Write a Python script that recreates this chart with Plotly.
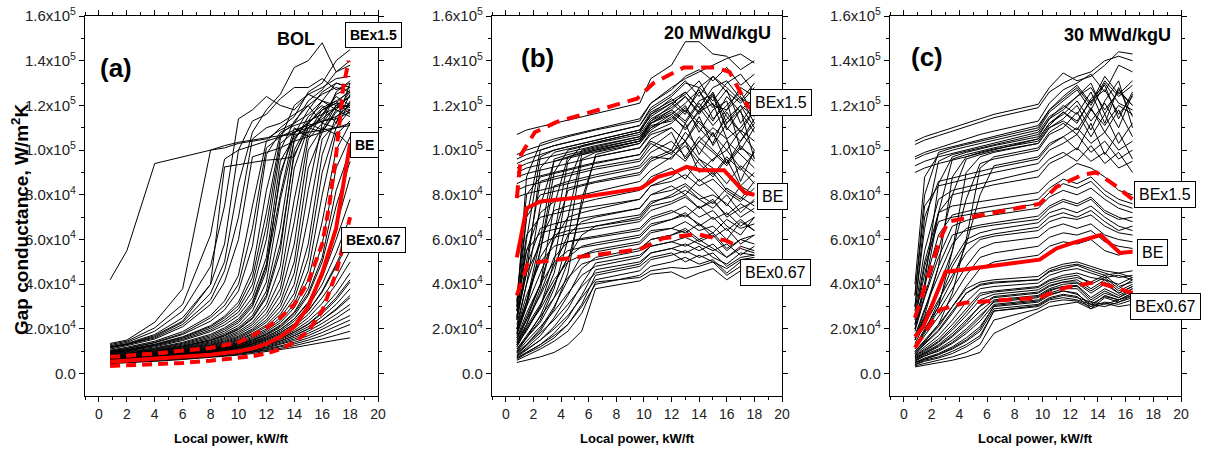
import plotly.graph_objects as go

# gap conductance values in units of 1e3 W/m2K, local power in kW/ft

# ---- panel (a): BOL ----
xa = [0.8, 2, 4, 6, 8, 9, 10, 11, 12, 13, 14, 15, 16, 17, 18]
lines_a = [
    [4.5, 5, 5.5, 6.3, 7.2, 7.7, 8.3, 9, 9.8, 10.7, 11.7, 12.8, 14, 15, 16],
    [4.8, 5.2, 5.8, 6.6, 7.6, 8.2, 8.9, 9.7, 10.7, 11.9, 13.3, 15, 17, 19.5, 22],
    [5, 5.4, 6.1, 7, 8, 8.7, 9.4, 10.3, 11.5, 13, 14.8, 17, 19.8, 23, 26],
    [5.2, 5.6, 6.4, 7.3, 8.4, 9.1, 9.9, 11, 12.3, 14, 16.2, 19, 22.5, 26.5, 31],
    [5.4, 5.9, 6.7, 7.6, 8.8, 9.6, 10.5, 11.7, 13.2, 15.2, 17.8, 21, 25.5, 31, 38],
    [5.6, 6.1, 6.9, 7.9, 9.2, 10, 11, 12.3, 14, 16.3, 19.3, 23.5, 29, 36, 45],
    [5.8, 6.3, 7.2, 8.2, 9.6, 10.5, 11.6, 13, 15, 17.6, 21.2, 26.5, 34, 43, 55],
    [6, 6.5, 7.4, 8.5, 10, 11, 12.2, 13.8, 16, 19, 23.5, 30, 40, 54, 70],
    [6.2, 6.7, 7.7, 8.9, 10.5, 11.6, 12.9, 14.7, 17.2, 20.7, 26, 35, 50, 75, 95],
    [6.4, 7, 8, 9.3, 11, 12.2, 13.7, 15.7, 18.6, 22.8, 29.5, 42, 68, 100, 112],
    [6.6, 7.2, 8.3, 9.7, 11.5, 12.8, 14.5, 16.8, 20, 25, 33.5, 52, 90, 110, 118],
    [6.8, 7.4, 8.6, 10.1, 12, 13.5, 15.3, 18, 21.8, 28, 40, 70, 105, 112, 125],
    [7, 7.7, 9, 10.6, 12.7, 14.3, 16.3, 19.4, 24, 32, 50, 92, 108, 118, 115],
    [7.3, 8, 9.4, 11.1, 13.4, 15.2, 17.5, 21, 27, 38, 68, 105, 112, 110, 122],
    [7.6, 8.4, 9.8, 11.7, 14.2, 16.2, 18.9, 23, 31, 48, 92, 110, 115, 125, 128],
    [8, 8.8, 10.3, 12.4, 15.2, 17.5, 20.6, 26, 37, 65, 105, 113, 122, 118, 126],
    [8.4, 9.2, 10.9, 13.2, 16.4, 19, 22.8, 30, 46, 90, 107, 118, 126, 130, 128],
    [5.9, 6.4, 7.3, 8.4, 9.8, 10.8, 11.9, 13.4, 15.5, 18.3, 22.3, 28, 37, 49, 62],
    [6.1, 6.6, 7.5, 8.7, 10.2, 11.3, 12.5, 14.2, 16.5, 19.8, 24.5, 32, 45, 66, 88],
    [6.3, 6.9, 7.9, 9.1, 10.8, 11.9, 13.3, 15.2, 17.9, 21.7, 27.5, 38, 58, 92, 106],
    [5.5, 6, 6.8, 7.8, 9, 9.8, 10.8, 12, 13.6, 15.7, 18.5, 22, 27, 33, 41],
    [5.3, 5.8, 6.5, 7.5, 8.6, 9.3, 10.2, 11.3, 12.8, 14.6, 17, 20, 24, 28.5, 34],
    [6.5, 7.1, 8.1, 9.5, 11.2, 12.5, 14, 16.2, 19.3, 23.8, 31, 46, 80, 108, 102],
    [7.1, 7.8, 9.1, 10.8, 13, 14.7, 16.8, 20, 25.5, 35, 58, 100, 110, 107, 113],
    [4.6, 5.1, 5.7, 6.5, 7.4, 8, 8.6, 9.4, 10.3, 11.3, 12.5, 13.9, 15.5, 17.2, 19],
    [4.9, 5.3, 6, 6.8, 7.8, 8.4, 9.2, 10, 11.1, 12.4, 14, 16, 18.4, 21.3, 24],
    [5.1, 5.5, 6.2, 7.1, 8.2, 8.9, 9.7, 10.6, 11.9, 13.5, 15.5, 18, 21, 24.8, 29],
    [5.3, 5.7, 6.5, 7.4, 8.6, 9.3, 10.2, 11.3, 12.7, 14.6, 17, 20, 24, 29, 35],
    [5.5, 6, 6.8, 7.7, 9, 9.8, 10.7, 12, 13.6, 15.8, 18.6, 22.3, 27.5, 34, 42],
    [5.7, 6.2, 7, 8, 9.4, 10.2, 11.3, 12.6, 14.5, 17, 20.3, 25, 31.5, 40, 50],
    [5.9, 6.4, 7.3, 8.3, 9.8, 10.7, 11.8, 13.3, 15.4, 18.2, 22.2, 28, 36.5, 48, 60],
    [6.1, 6.6, 7.5, 8.7, 10.3, 11.3, 12.5, 14.2, 16.5, 19.7, 24.5, 31.5, 43, 60, 78],
    [6.3, 6.8, 7.8, 9, 10.7, 11.8, 13.1, 15, 17.6, 21.3, 27, 36, 52, 82, 100],
    [6.7, 7.3, 8.4, 9.9, 11.8, 13.2, 14.9, 17.5, 21, 26.5, 36, 58, 98, 115, 120],
    [6.9, 7.6, 8.8, 10.4, 12.4, 13.9, 15.8, 18.8, 23, 30, 45, 82, 112, 120, 118],
    [7.4, 8.1, 9.6, 11.4, 13.8, 15.7, 18.2, 22, 29, 42, 78, 108, 118, 122, 126],
    [7.8, 8.6, 10, 12, 14.7, 16.8, 19.7, 24.5, 34, 55, 100, 112, 109, 120, 124],
    [8.2, 9, 10.6, 12.8, 15.8, 18.2, 21.6, 28, 41, 78, 104, 115, 120, 112, 130],
    [8.8, 9.7, 11.5, 14, 17.6, 20.5, 24.5, 32, 49, 88, 110, 106, 116, 124, 120],
    [9.3, 10.3, 12.4, 15.3, 19.5, 23, 27.5, 37, 60, 100, 113, 120, 112, 126, 131],
    [9, 10, 12, 14.8, 18.8, 21.8, 26, 34, 52, 95, 106, 110, 114, 119, 124],
    [9.5, 10.5, 12.7, 15.8, 20.3, 24, 29, 40, 66, 103, 108, 112, 118, 121, 127],
    [9.8, 10.8, 13.2, 16.5, 21.5, 25.7, 32, 46, 82, 107, 112, 122, 127, 135, 140],
    [10, 11.2, 13.8, 17.5, 23.5, 28.5, 37, 57, 98, 108, 111, 113, 116, 119, 120],
    [10.5, 11.8, 14.5, 18.8, 26, 32.5, 44, 75, 104, 110, 115, 126, 130, 140, 145],
    [11, 12.5, 15.5, 21, 31, 41, 60, 97, 99, 101, 104, 106, 108, 110, 112],
    [11.5, 13, 16.5, 23, 36, 50, 85, 108, 118, 125, 137, 140, 148, 135, 138],
    [12, 13.5, 17.5, 25, 40, 58, 100, 113, 116, 123, 128, 128, 132, 127, 130],
    [12.5, 14, 19, 28, 48, 75, 114, 118, 124, 120, 118, 125, 122, 130, 128],
    [13.5, 15, 23, 38, 100, 101, 103, 104, 105, 109, 112, 116, 122, 120, 124],
    [13, 14.5, 20.5, 31, 62, 96, 100, 102, 104, 106, 108, 110, 113, 114, 117],
    [42, 55, 94, 97, 100, 102, 103.5, 104.5, 105.5, 106.5, 107, 108, 109, 110, 111],
    [12, 13.2, 17, 23.5, 40, 92.5, 93.5, 94.5, 95.5, 96, 97, 112, 118, 121, 119],
    [11.8, 13, 16, 22, 33, 46, 70, 105, 110, 112, 116, 120, 125, 128, 126],
    [10.2, 11.4, 14, 18, 25, 30.5, 40, 65, 101, 106, 109, 111, 113, 115, 118],
    [9.6, 10.6, 13, 16.2, 21, 25, 30.5, 43, 72, 105, 120, 125, 128, 132, 133],
    [8.6, 9.5, 11.2, 13.6, 17, 19.8, 23.6, 31, 48, 80, 108, 112, 119, 122, 116],
    [7.9, 8.7, 10.2, 12.2, 15, 17.1, 20, 25, 35, 58, 98, 110, 108, 117, 121],
]
be_a_x = [0.8, 2, 4, 6, 8, 10, 11, 12, 13, 14, 15, 16, 17, 18]
be_a = [5.3, 5.8, 6.5, 7.3, 8.5, 10, 11.3, 13.3, 16.5, 21, 30, 45, 65, 103]
hi_a_x = [0.8, 2, 4, 6, 8, 10, 11, 12, 13, 14, 15, 16, 16.5, 17, 17.5, 17.9]
hi_a = [7.5, 8, 9, 10.3, 11.5, 14, 17, 20.5, 25, 31, 41, 58, 75, 98, 128, 140]
lo_a_x = [0.8, 2, 4, 6, 8, 10, 11, 12, 13, 14, 15, 16, 17, 18]
lo_a = [3.4, 3.7, 4.2, 4.8, 5.8, 7, 7.8, 9, 11, 14, 19, 28, 45, 70]

# ---- panel (b): 20 MWd/kgU ----
xb = [0.8, 1.5, 2.5, 3.5, 4.5, 5.5, 6.5, 9.7, 10.5, 12, 13, 14, 15, 16, 17, 18]
lines_b = [
    [107, 109, 110.5, 112, 113.5, 115, 116.5, 121, 132, 138, 148.5, 148.5, 143, 142, 136, 140],
    [98, 100, 102, 104, 106, 107.5, 109, 113, 121, 128, 132, 135, 138, 141, 143, 139],
    [96, 98, 100, 102, 103.5, 105, 106.5, 111, 118, 124, 130, 128, 133, 126, 121, 128],
    [94, 96, 98, 100, 101.5, 103, 104.5, 109, 115, 121, 125, 131, 120, 118, 128, 124],
    [92, 94, 96, 97.5, 99, 100.5, 102, 106, 112, 118, 113, 122, 125, 115, 108, 118],
    [90, 92, 93.5, 95, 96.5, 98, 99.5, 104, 110, 114, 120, 108, 118, 122, 100, 110],
    [88, 89.5, 91, 92.5, 94, 95.5, 97, 101, 107, 110, 104, 115, 102, 112, 118, 96],
    [85, 87, 88.5, 90, 91.5, 93, 94.5, 98, 104, 100, 112, 98, 108, 94, 104, 112],
    [82, 84, 85.5, 87, 88.5, 90, 91.5, 95, 101, 108, 96, 104, 110, 105, 86, 100],
    [79, 80.5, 82, 83.5, 85, 86.5, 88, 92, 97, 96, 104, 90, 96, 100, 92, 85],
    [30, 88, 103, 105, 106.5, 108, 109.5, 114, 121, 127, 133, 136, 131, 137, 129, 134],
    [25, 60, 97, 100, 101.5, 103, 104.5, 109, 117, 122, 126, 119, 128, 131, 123, 120],
    [20, 40, 75, 95, 97, 98.5, 100, 104, 112, 116, 121, 127, 114, 120, 126, 116],
    [18, 32, 55, 90, 100, 101.5, 103, 107, 114, 119, 124, 116, 125, 109, 118, 123],
    [15, 25, 40, 62, 95, 102, 103.5, 108, 116, 123, 117, 126, 119, 127, 112, 121],
    [12, 20, 30, 45, 70, 98, 100, 104, 111, 113, 119, 112, 106, 114, 120, 110],
    [10, 16, 23, 34, 50, 75, 98, 103, 109, 115, 110, 117, 121, 105, 110, 118],
    [35, 70, 80, 81.5, 83, 84.5, 86, 90, 96, 100, 95, 104, 99, 93, 101, 97],
    [28, 55, 72, 77, 78.5, 80, 81.5, 86, 91, 97, 102, 94, 88, 96, 84, 90],
    [22, 40, 60, 73, 75, 76.5, 78, 82, 88, 92, 87, 96, 92, 85, 93, 88],
    [17, 30, 45, 60, 70, 72, 73.5, 78, 84, 88, 93, 86, 90, 82, 78, 86],
    [14, 24, 35, 48, 62, 68, 70, 74, 80, 84, 80, 87, 82, 75, 84, 80],
    [12, 20, 29, 40, 52, 62, 66, 70, 76, 80, 84, 78, 74, 80, 72, 78],
    [33, 55, 63, 64.5, 66, 67, 68, 71, 77, 79, 82, 78, 80, 76, 70, 74],
    [26, 45, 58, 61, 62.5, 63.5, 64.5, 68, 73, 76, 79, 74, 77, 71, 76, 72],
    [20, 35, 50, 57, 59, 60, 61, 64, 69, 72, 75, 70, 73, 66, 62, 70],
    [16, 27, 40, 50, 55, 56.5, 57.5, 61, 66, 69, 71, 67, 63, 69, 65, 67],
    [13, 21, 31, 42, 50, 53, 54.5, 58, 63, 65, 68, 64, 66, 60, 68, 64],
    [11, 17, 25, 34, 43, 49, 51, 55, 60, 62, 65, 60, 63, 56, 60, 62],
    [9.5, 14.5, 21, 28, 36, 44, 48, 52, 57, 59, 61, 58, 55, 58, 53, 57],
    [8.5, 12.5, 18, 24, 31, 39, 45, 49, 54, 56, 58, 55, 58, 52, 56, 54],
    [8, 11, 15, 20, 26, 34, 42, 46, 51, 53, 55, 52, 54, 48, 52, 53],
    [7, 9.5, 13, 17, 22, 30, 40, 44, 48, 50, 52, 49, 51, 45, 50, 51],
    [6, 8, 11, 14.5, 19, 27, 41, 43, 46, 47.5, 47, 48, 50, 44, 48, 49],
    [5, 6, 7.5, 9.5, 13, 19, 38, 41.5, 44.5, 45.5, 42.5, 45, 47, 42, 46, 47],
    [28, 70, 100, 102, 103.5, 105, 106.5, 111, 119, 125, 131, 124, 133, 128, 122, 130],
    [24, 45, 92, 99, 100.5, 102, 103.5, 108, 116, 121, 116, 128, 122, 130, 134, 126],
    [20, 32, 60, 96, 98, 99.5, 101, 105, 113, 118, 124, 117, 126, 112, 120, 115],
    [16, 24, 40, 75, 97, 99, 100.5, 105, 112, 117, 112, 121, 113, 124, 117, 108],
    [13, 19, 30, 50, 85, 100, 101.5, 106, 113, 120, 126, 119, 111, 118, 124, 112],
    [11, 16, 24, 38, 60, 96, 99, 103, 110, 116, 109, 118, 124, 110, 104, 114],
    [9, 13, 19, 29, 45, 78, 97, 101, 108, 112, 118, 110, 103, 117, 108, 100],
    [32, 80, 88, 89.5, 91, 92.5, 94, 98, 105, 110, 104, 113, 107, 100, 109, 104],
    [25, 50, 86, 88, 89.5, 91, 92.5, 96, 103, 98, 108, 101, 95, 104, 98, 92],
    [19, 30, 55, 84, 86, 87.5, 89, 93, 99, 104, 97, 106, 100, 94, 102, 95],
    [14, 22, 38, 62, 82, 84, 85.5, 89, 95, 99, 104, 96, 89, 97, 91, 99],
    [30, 62, 70, 71.5, 73, 74, 75, 78, 84, 86, 89, 84, 87, 81, 77, 83],
    [24, 48, 65, 67, 68.5, 69.5, 70.5, 74, 80, 82, 85, 80, 76, 83, 79, 75],
    [18, 32, 52, 62, 64, 65, 66, 69, 75, 77, 80, 74, 78, 70, 74, 77],
    [13, 22, 36, 52, 59, 60.5, 61.5, 65, 70, 73, 70, 75, 69, 72, 66, 70],
    [10, 16, 26, 40, 52, 57, 58.5, 62, 67, 69, 72, 66, 70, 64, 69, 64],
    [9, 13, 20, 30, 42, 53, 55.5, 59, 64, 65, 63, 67, 61, 65, 58, 62],
    [8, 11.5, 17, 25, 35, 47, 52, 56, 60, 62, 64, 59, 62, 55, 60, 58],
    [7.5, 10.5, 15, 21, 29, 40, 49.5, 53, 57, 59, 57, 60, 56, 52, 57, 55],
    [7, 9.5, 13, 18, 25, 35, 46.5, 50, 54, 56, 54, 57, 52, 49, 54, 53],
    [6.5, 9, 12, 16, 22, 31, 44, 48, 52, 54, 50, 53, 50, 47, 51, 52],
]
be_b_x = [0.8, 1.5, 2.5, 5.6, 9.8, 11, 12.2, 13.1, 14.1, 15.8, 17.3, 18]
be_b = [52, 74, 77, 79, 83, 88, 90, 92.5, 91, 91, 81, 80]
hi_b_x = [0.8, 1.1, 2.1, 3.7, 9.5, 10.7, 12.9, 15.1, 16.2, 17.5, 18]
hi_b = [78.5, 98, 108, 112.6, 123, 130, 137, 137, 135, 120, 117]
lo_b_x = [0.8, 1.6, 2.5, 9.7, 11.4, 12.9, 13.9, 16, 17]
lo_b = [35, 49.5, 50, 55.6, 60.6, 61.7, 62.4, 59.4, 56.4]

# ---- panel (c): 30 MWd/kgU ----
xc = [0.8, 1.5, 2.5, 3.5, 4.5, 5.5, 6.5, 9.7, 10.5, 11.5, 12.5, 13.5, 14.5, 15.5, 16.5]
lines_c = [
    [104, 106, 108, 110, 112, 114, 116, 120.5, 128, 134.5, 131, 133, 138, 144, 143],
    [102.5, 104.5, 106.5, 108.5, 110.5, 112.5, 114.5, 119, 126, 130, 133, 135, 140, 142, 140],
    [97, 99, 101, 103, 105, 107, 108.5, 113, 121, 127, 130, 134, 126, 138, 135],
    [96, 98, 100, 101.5, 103, 104.5, 106, 111, 118, 123, 128, 120, 131, 124, 129],
    [93, 95, 97, 98.5, 100, 101.5, 103, 108, 115, 119, 124, 128, 118, 126, 120],
    [90, 92, 94, 95.5, 97, 98.5, 100, 105, 112, 117, 113, 122, 127, 116, 124],
    [40, 88, 98, 100, 101.5, 103, 104.5, 109, 117, 122, 127, 118, 130, 121, 118],
    [30, 65, 95, 98, 99.5, 101, 102.5, 107, 114, 120, 116, 126, 112, 128, 115],
    [25, 45, 72, 96, 98, 99.5, 101, 105, 112, 116, 122, 113, 121, 110, 125],
    [20, 35, 55, 80, 96, 98, 99.5, 103, 110, 113, 109, 119, 108, 118, 106],
    [15, 25, 38, 55, 78, 94, 96, 100, 107, 110, 117, 106, 116, 103, 112],
    [12, 20, 30, 42, 58, 80, 93, 97, 103, 106, 100, 112, 98, 108, 96],
    [35, 75, 84, 85.5, 87, 88.5, 90, 94, 100, 103, 107, 99, 104, 96, 100],
    [28, 55, 78, 82, 83.5, 85, 86.5, 91, 96, 99, 95, 102, 94, 99, 90],
    [26, 50, 72, 75, 76, 77, 78, 81, 86, 90, 94, 92, 88, 82, 80],
    [22, 40, 62, 71, 72.5, 74, 75, 78, 83, 87, 85, 88, 82, 78, 76],
    [19, 34, 52, 66, 68.5, 70, 71, 74, 79, 82, 80, 83, 78, 74, 72],
    [17, 29, 44, 58, 65, 66.5, 67.5, 70.5, 75, 78, 76, 79, 73, 70, 68],
    [15, 25, 38, 50, 60, 63, 64.5, 67.5, 72, 74, 72, 75, 70, 66, 64],
    [13.5, 22, 33, 44, 54, 60, 61.5, 64, 68, 70, 69, 71, 66, 63, 62],
    [12, 19, 28, 38, 48, 56, 58.5, 61, 65, 67, 65, 67, 62, 60, 59],
    [11, 17, 25, 34, 44, 52, 54, 57, 61, 63, 62, 64, 59, 57, 56],
    [10, 15, 22, 30, 39, 47, 50, 53, 57, 59, 58, 60, 55, 53, 55],
    [9, 13, 19, 27, 36, 40, 41, 42, 46, 48, 49, 47, 45, 43, 44],
    [8.5, 12, 17, 24, 32, 38, 39, 40.5, 44, 46, 47, 45, 43, 44, 42],
    [8, 11, 15.5, 22, 29, 36, 37, 39, 42, 44, 45, 43, 42, 40, 43],
    [7.5, 10, 14, 19.5, 26, 33, 35.5, 37.5, 40.5, 42, 43, 41, 44, 39, 41],
    [7, 9.5, 13, 18, 24, 30, 34, 36, 39, 41, 42, 38, 42, 37, 40],
    [6.5, 9, 12, 16.5, 22, 28, 33, 35, 38, 40, 40.5, 36, 40, 36, 39],
    [6, 8.5, 11, 15, 20, 26, 32, 34, 37, 39, 39.5, 34, 38, 35, 38],
    [5.5, 8, 10, 13.5, 18, 23.5, 31, 33, 36, 38, 38, 32, 36, 34, 37],
    [5, 7, 9, 12, 16, 21, 30, 32, 35, 37, 36, 30, 35, 33, 36],
    [4.5, 6.5, 8.5, 11, 14.5, 19, 29, 31, 34, 35.5, 34.5, 29, 34, 32, 35],
    [4, 6, 7.5, 10, 13, 17, 28, 30, 33, 34, 33, 31, 30, 32, 34],
    [3, 3.8, 4.8, 6, 7.5, 9.5, 18, 27.5, 30, 31, 32, 29, 31.5, 30, 31],
    [35, 80, 99, 101, 102.5, 104, 105.5, 110, 118, 124, 129, 121, 133, 125, 131],
    [22, 40, 85, 97, 99, 100.5, 102, 106, 114, 118, 124, 130, 116, 127, 120],
    [16, 26, 48, 88, 97, 99, 100.5, 104, 111, 117, 112, 123, 129, 114, 126],
    [12, 18, 30, 55, 90, 97, 99, 103, 110, 114, 120, 109, 122, 131, 110],
    [9, 14, 22, 36, 60, 92, 97, 101, 108, 112, 107, 118, 111, 120, 116],
    [30, 70, 86, 87.5, 89, 90.5, 92, 96, 102, 106, 110, 103, 108, 100, 104],
    [20, 38, 72, 80, 81.5, 83, 84.5, 88, 94, 97, 101, 95, 99, 92, 95],
    [24, 48, 68, 70, 71, 72, 73, 76, 81, 85, 83, 86, 80, 76, 74],
    [16, 28, 48, 62, 64, 65.5, 66.5, 69, 74, 77, 75, 78, 72, 69, 70],
    [12, 19, 32, 48, 58, 61, 62.5, 65.5, 70, 72, 70, 73, 68, 64, 66],
    [10, 14.5, 21, 30, 38, 41, 42, 43.5, 47, 49, 50, 48, 46, 45, 46],
    [9.5, 13.5, 19.5, 28, 36, 39.5, 40.5, 42, 45.5, 47, 48.5, 46, 44, 45, 43],
    [8, 10.5, 14.5, 20.5, 27.5, 35, 36.5, 38.5, 41.5, 43, 44, 40, 43, 38, 42],
    [7, 9, 12.5, 17, 23, 30.5, 34.5, 36.5, 39.5, 41, 41, 37, 41, 36, 39],
    [6, 8, 10.5, 14, 19, 25, 32.5, 34.5, 37.5, 39, 39, 33, 37, 34, 38],
    [5, 6.5, 8.5, 11.5, 15, 20, 30.5, 32.5, 35.5, 37, 35.5, 31, 34.5, 33, 36],
    [4, 5.5, 7, 9, 12, 16, 28, 30.5, 33.5, 35, 34, 32, 31, 33, 35],
    [3.5, 4.5, 6, 7.5, 9.5, 13, 24, 29, 32, 33, 32.5, 30, 32, 31, 33],
]
be_c_x = [0.8, 1.4, 3.0, 9.8, 11, 12.2, 14.2, 15.6, 16.5]
be_c = [16.5, 21, 45.5, 51, 56, 58.5, 62, 54, 54.5]
hi_c_x = [0.8, 2.6, 3.2, 9.8, 11, 12.9, 13.9, 15.4, 16.5]
hi_c = [25, 60, 68, 76, 83.5, 89, 90, 83.5, 78]
lo_c_x = [0.8, 2.6, 4.4, 9.8, 11.6, 13.9, 15.8, 16.5]
lo_c = [11.6, 28.6, 31.7, 34, 38.4, 41, 37.5, 36]

y_ticks = [0, 20, 40, 60, 80, 100, 120, 140, 160]
y_ticktext = ["0.0", "2.0x10<sup>4</sup>", "4.0x10<sup>4</sup>", "6.0x10<sup>4</sup>",
              "8.0x10<sup>4</sup>", "1.0x10<sup>5</sup>", "1.2x10<sup>5</sup>",
              "1.4x10<sup>5</sup>", "1.6x10<sup>5</sup>"]

W, H = 1208, 455
FONT = "Arial, Liberation Sans, sans-serif"


def px_x(p):
    return p / W


def px_y(p):
    return 1 - p / H


panels = [
    ("x", "y", xa, lines_a, (be_a_x, be_a), (hi_a_x, hi_a), (lo_a_x, lo_a), "10px,6px"),
    ("x2", "y2", xb, lines_b, (be_b_x, be_b), (hi_b_x, hi_b), (lo_b_x, lo_b), "13px,8px"),
    ("x3", "y3", xc, lines_c, (be_c_x, be_c), (hi_c_x, hi_c), (lo_c_x, lo_c), "13px,8px"),
]

fig = go.Figure()
for xref, yref, xs, lines, be, hi, lo, dash in panels:
    for vals in lines:
        fig.add_trace(go.Scatter(x=xs, y=vals, mode="lines", xaxis=xref, yaxis=yref,
                                 line=dict(color="black", width=1), hoverinfo="skip"))
    for (rx, ry), d in [(hi, dash), (lo, dash), (be, "solid")]:
        fig.add_trace(go.Scatter(x=rx, y=ry, mode="lines", xaxis=xref, yaxis=yref,
                                 line=dict(color="#ff0000", width=4, dash=d), hoverinfo="skip"))

x_domains = [(85, 378), (492, 782), (890, 1181)]
y_domain = [px_y(396), px_y(16)]


def x_axis(dom, anchor):
    return dict(domain=[px_x(dom[0]), px_x(dom[1])], anchor=anchor, range=[-1, 20],
                automargin=False, ticklabeloverflow="allow",
                tickmode="linear", tick0=0, dtick=2, showgrid=False, zeroline=False,
                showline=True, linecolor="black", linewidth=1.2, mirror="ticks",
                ticks="outside", ticklen=5, tickcolor="black",
                tickfont=dict(family=FONT, size=14, color="#222"),
                minor=dict(ticks="outside", ticklen=3, tickcolor="black", dtick=1, tick0=0))


def y_axis(anchor):
    return dict(domain=y_domain, anchor=anchor, range=[-10, 160], tickmode="array",
                automargin=False, ticklabeloverflow="allow",
                tickvals=y_ticks, ticktext=y_ticktext, showgrid=False, zeroline=False,
                showline=True, linecolor="black", linewidth=1.2, mirror="ticks",
                ticks="outside", ticklen=5, tickcolor="black",
                tickfont=dict(family=FONT, size=15, color="#222"),
                minor=dict(ticks="outside", ticklen=3, tickcolor="black",
                           tickmode="array", tickvals=[10, 30, 50, 70, 90, 110, 130, 150]))


annotations = []


def note(text, x, y, size, bold=False, box=False, angle=0):
    t = f"<b>{text}</b>" if bold else text
    a = dict(text=t, x=px_x(x), y=px_y(y), xref="paper", yref="paper", showarrow=False,
             xanchor="center", yanchor="middle", textangle=angle,
             font=dict(family=FONT, size=size, color="black"))
    if box:
        a.update(bgcolor="white", bordercolor="black", borderwidth=1, borderpad=4)
    annotations.append(a)


note("(a)", 116, 68, 26, bold=True)
note("(b)", 537, 58, 26, bold=True)
note("(c)", 927, 57, 26, bold=True)
note("BOL", 296, 39, 18, bold=True)
note("20 MWd/kgU", 717, 33, 18, bold=True)
note("30 MWd/kgU", 1117, 35, 18, bold=True)
note("BEx1.5", 373, 35, 14, bold=True, box=True)
note("BE", 364, 145, 14, bold=True, box=True)
note("BEx0.67", 373, 240, 14, bold=True, box=True)
note("BEx1.5", 781, 103, 16, box=True)
note("BE", 772, 196, 16, box=True)
note("BEx0.67", 775, 272, 16, box=True)
note("BEx1.5", 1165, 194, 16, box=True)
note("BE", 1152, 252, 16, box=True)
note("BEx0.67", 1165, 306, 16, box=True)
for dom in x_domains:
    note("Local power, kW/ft", (dom[0] + dom[1]) / 2, 438, 13, bold=True)
note("Gap conductance, W/m<sup>2</sup>K", 20, 219, 19, bold=True, angle=-90)

fig.update_layout(
    width=W, height=H, showlegend=False,
    margin=dict(l=0, r=0, t=0, b=0, autoexpand=False),
    paper_bgcolor="white", plot_bgcolor="white",
    xaxis=x_axis(x_domains[0], "y"), yaxis=y_axis("x"),
    xaxis2=x_axis(x_domains[1], "y2"), yaxis2=y_axis("x2"),
    xaxis3=x_axis(x_domains[2], "y3"), yaxis3=y_axis("x3"),
    annotations=annotations,
)

# drop the default page margin so the figure sits at the window's top-left corner
fig.write_html("out.html", config={"displayModeBar": False},
               post_script="document.body.style.margin = '0';")
